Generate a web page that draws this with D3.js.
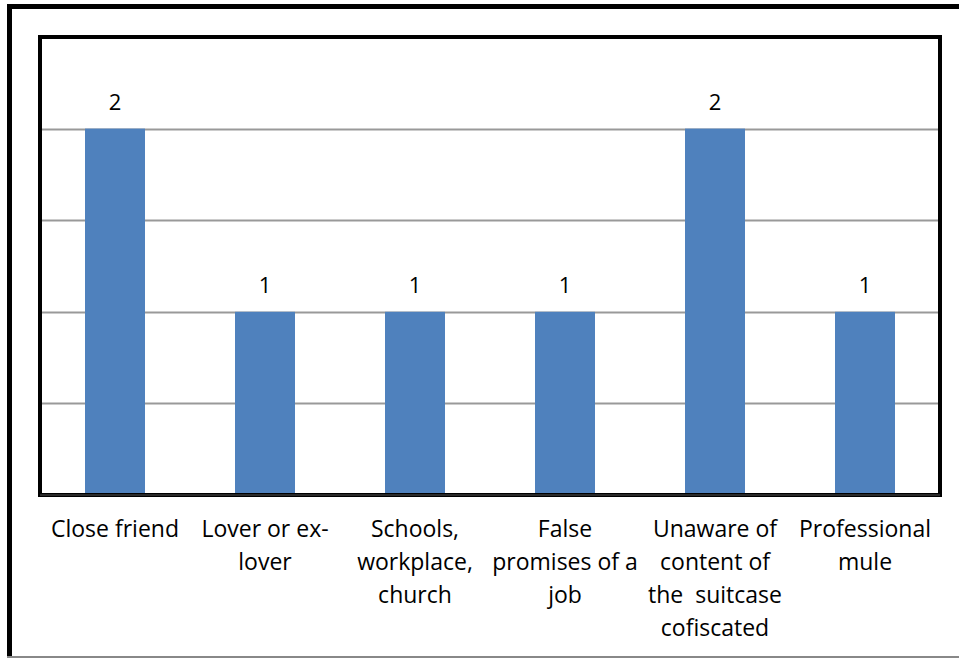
<!DOCTYPE html>
<html><head><meta charset="utf-8">
<script src="https://cdn.jsdelivr.net/npm/d3@7"></script>
<style>body{margin:0;background:#fff}svg{display:block}text{font-variant-ligatures:none}</style>
</head><body>
<script>
const categories = ["Close friend","Lover or ex-lover","Schools, workplace, church","False promises of a job","Unaware of content of the suitcase cofiscated","Professional mule"];
const categoryLines = [["Close friend"],["Lover or ex-","lover"],["Schools,","workplace,","church"],["False","promises of a","job"],["Unaware of","content of","the  suitcase","cofiscated"],["Professional","mule"]];
const values = [2,1,1,1,2,1];
const gridTicks = [0.5,1,1.5,2,2.5];

const W=959,H=658;
const svg=d3.select("body").append("svg").attr("width",W).attr("height",H);
const font="'Open Sans', sans-serif";
// outer frame
svg.append("rect").attr("x",9.5).attr("y",6.5).attr("width",960).attr("height",660)
  .attr("fill","none").attr("stroke","#000").attr("stroke-width",5);
svg.append("line").attr("x1",7).attr("x2",W).attr("y1",657).attr("y2",657).attr("stroke","#888").attr("stroke-width",2);

const L=40,R=940,T=37,B=495;
const x=d3.scaleBand().domain(categories).range([L,R]).paddingInner(0.6).paddingOuter(0.3);
const y=d3.scaleLinear().domain([0,2.5]).range([B,T]);

const g=svg.append("g");
g.selectAll("line.grid").data(gridTicks).join("line")
  .attr("x1",L).attr("x2",R).attr("y1",d=>Math.round(y(d))+0.5).attr("y2",d=>Math.round(y(d))+0.5)
  .attr("stroke","#999").attr("stroke-width",2);

g.selectAll("rect.bar").data(values).join("rect")
  .attr("x",(d,i)=>x(categories[i])).attr("width",x.bandwidth())
  .attr("y",d=>y(d)).attr("height",d=>B-y(d)).attr("fill","#4F81BD");

g.selectAll("text.val").data(values).join("text")
  .attr("x",(d,i)=>x(categories[i])+x.bandwidth()/2).attr("y",d=>y(d)-19)
  .attr("text-anchor","middle").attr("font-family",font).attr("font-size",22).attr("fill","#000")
  .text(d=>d);

// plot frame
svg.append("rect").attr("x",L).attr("y",T).attr("width",R-L).attr("height",B-T)
  .attr("fill","none").attr("stroke","#000").attr("stroke-width",4);
svg.append("line").attr("x1",L).attr("x2",R).attr("y1",B).attr("y2",B).attr("stroke","#555").attr("stroke-width",1);

categories.forEach((c,i)=>{
  const t=svg.append("text").attr("text-anchor","middle").attr("font-family",font).attr("font-size",23).attr("fill","#000");
  categoryLines[i].forEach((ln,j)=>{
    t.append("tspan").attr("x",x(c)+x.bandwidth()/2).attr("y",537+j*33).attr("xml:space","preserve").text(ln);
  });
});
</script>
</body></html>
